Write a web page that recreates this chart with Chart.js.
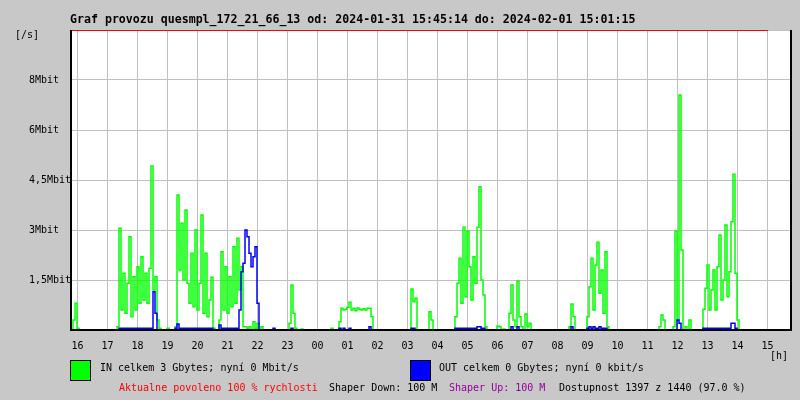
<!DOCTYPE html>
<html>
<head>
<meta charset="utf-8">
<script src="https://cdn.jsdelivr.net/npm/chart.js@4/dist/chart.umd.min.js"></script>
<style>
html,body{margin:0;padding:0;background:#c8c8c8;}
canvas{display:block;}
</style>
</head>
<body>
<canvas id="c" width="800" height="400"></canvas>
<script>
// ---- text ----
const titleText = 'Graf provozu quesmpl_172_21_66_13 od: 2024-01-31 15:45:14 do: 2024-02-01 15:01:15';
const yUnitText = '[/s]';
const xUnitText = '[h]';
const legendIn = 'IN celkem 3 Gbytes; nyní 0 Mbit/s';
const legendOut = 'OUT celkem 0 Gbytes; nyní 0 kbit/s';
const footerAllowed = 'Aktualne povoleno 100 % rychlosti';
const footerDown = 'Shaper Down: 100 M';
const footerUp = 'Shaper Up: 100 M';
const footerAvail = 'Dostupnost 1397 z 1440 (97.0 %)';

// ---- axes ----
const hourLabels = ['16','17','18','19','20','21','22','23','00','01','02','03','04','05','06','07','08','09','10','11','12','13','14','15'];
const firstHour = 16;
const xMinHour = 15.75;   // 15:45
const xMaxHour = 39.75;   // 15:45 next day
const yMaxMbit = 9;
const yStepMbit = 1.5;
const yTickValues = [1.5, 3, 4.5, 6, 7.5];
const yTickLabels = ['1,5Mbit', '3Mbit', '4,5Mbit', '6Mbit', '8Mbit'];

// ---- samples: one value every 4 minutes from 15:45 (Mbit/s), 15 per row = 1 hour ----
const sampleStartHour = 15.75;
const sampleStepMinutes = 4;
const inMbit = [
  0,0,0.3,0.8,0.05,0,0,0,0,0,0,0,0,0,0,
  0,0,0,0,0,0,0,0,0,0.1,3.05,0.6,1.7,0.5,1.4,
  2.8,0.4,1.6,0.6,1.9,0.8,2.2,0.9,1.7,0.8,1.85,4.92,1.2,1.6,0.3,
  0.05,0,0,0,0.05,0,0,0,0.1,4.05,1.8,3.2,1.5,3.6,1.4,
  0.8,2.3,0.7,3.0,0.6,1.4,3.45,0.5,2.3,0.4,0.9,1.58,0.05,0,0,
  0.3,2.35,0.6,1.9,0.5,1.6,0.7,2.5,0.8,2.75,1.2,1.9,0.1,0.1,0.05,
  0.1,0,0.25,0.05,0.2,0,0.1,0,0,0,0,0,0,0,0,
  0,0,0,0,0,0.2,1.35,0.5,0.05,0,0,0.03,0,0,0,
  0,0,0,0,0,0,0,0,0,0,0,0.05,0,0,0,
  0.25,0.65,0.6,0.62,0.68,0.83,0.6,0.65,0.58,0.66,0.62,0.6,0.64,0.6,0.65,
  0.65,0.4,0,0,0,0,0,0,0,0,0,0,0,0,0,
  0,0,0,0,0,0,1.23,0.85,0.95,0,0,0,0,0,0,
  0.55,0.3,0,0,0,0,0,0,0,0,0,0,0,0.4,1.4,
  2.15,0.8,3.08,1.0,2.97,1.9,0.9,2.2,1.4,3.08,4.3,1.5,1.05,0.1,0,
  0,0,0,0,0.12,0.1,0,0.03,0,0,0.5,1.35,0.3,0.1,1.47,
  0.4,0.1,0,0.48,0.1,0.2,0,0,0,0,0,0,0,0,0,
  0,0,0,0,0,0,0,0,0,0,0.1,0.78,0.4,0,0,
  0,0,0,0,0.4,1.3,2.15,0.6,1.95,2.63,1.1,1.8,0.5,2.35,0.1,
  0,0,0,0,0,0,0,0,0,0,0,0,0,0,0,
  0,0,0,0,0,0,0,0,0,0,0.1,0.45,0.3,0,0,
  0,0,0.1,2.97,0.3,7.05,2.4,0,0.1,0,0.3,0,0,0,0,
  0,0,0.62,1.25,1.95,0.6,1.2,1.8,0.6,1.9,2.85,0.9,1.5,3.15,1.0,
  1.75,3.25,4.67,1.7,0.3,0,0,0,0,0,0,0,0,0,0,
  0,0,0,0,0,null,null,null,null,null,null,null,null,null,null
];
const outMbit = [
  0,0,0,0,0,0,0,0,0,0,0,0,0,0,0,
  0,0,0,0,0,0,0,0,0,0,0.05,0.05,0.05,0.05,0.05,
  0.05,0.05,0.05,0.05,0.05,0.05,0.05,0.05,0.05,0.05,0.05,0.05,1.15,0.5,0,
  0,0,0,0,0,0,0,0,0.05,0.18,0.05,0.05,0.05,0.05,0.05,
  0.05,0.05,0.05,0.05,0.05,0.05,0.05,0.05,0.05,0.05,0.05,0.05,0,0,0,
  0.15,0.05,0.05,0.05,0.05,0.05,0.05,0.05,0.05,0.05,0.6,1.75,2.0,3.0,2.8,
  2.3,1.9,2.2,2.5,0.8,0,0,0,0,0,0,0,0.05,0,0,
  0,0,0,0,0,0,0.05,0,0,0,0,0,0,0,0,
  0,0,0,0,0,0,0,0,0,0,0,0,0,0,0,
  0.05,0,0.05,0,0,0.05,0,0,0,0,0,0,0,0,0,
  0.1,0,0,0,0,0,0,0,0,0,0,0,0,0,0,
  0,0,0,0,0,0,0.05,0.05,0,0,0,0,0,0,0,
  0,0,0,0,0,0,0,0,0,0,0,0,0,0.05,0.05,
  0.05,0.05,0.05,0.05,0.05,0.05,0.05,0.05,0.05,0.1,0.1,0.05,0.05,0,0,
  0,0,0,0,0,0,0,0,0,0,0,0.1,0,0,0.1,
  0,0,0,0,0,0,0,0,0,0,0,0,0,0,0,
  0,0,0,0,0,0,0,0,0,0,0,0.1,0,0,0,
  0,0,0,0,0.05,0.1,0.05,0.1,0.05,0.05,0.1,0.05,0.05,0.05,0,
  0,0,0,0,0,0,0,0,0,0,0,0,0,0,0,
  0,0,0,0,0,0,0,0,0,0,0,0,0,0,0,
  0,0,0,0,0.3,0.2,0,0,0,0,0,0,0,0,0,
  0,0,0.05,0.05,0.05,0.05,0.05,0.05,0.05,0.05,0.05,0.05,0.05,0.05,0.05,
  0.05,0.2,0.2,0.05,0,0,0,0,0,0,0,0,0,0,0,
  0,0,0,0,0,null,null,null,null,null,null,null,null,null,null
];
// allowed-speed line (100 %, off the top of the scale -> drawn at the top)
const limitHours = [15.75, 39.02];
const limitMbit = [9, 9];

// ---- colours ----
const colIn = '#00ff00', colOut = '#0000ff', colLimit = '#ff0000', colUp = '#990099';
const monoFont = '"DejaVu Sans Mono", "Liberation Mono", monospace';

function toPoints(vals) {
  return vals.map((v, i) => ({ x: sampleStartHour + i * sampleStepMinutes / 60, y: v }));
}

const decor = {
  id: 'decor',
  beforeDraw(chart) {
    const { ctx, chartArea: a } = chart;
    ctx.save();
    ctx.fillStyle = '#c8c8c8';
    ctx.fillRect(0, 0, chart.width, chart.height);
    ctx.fillStyle = '#ffffff';
    ctx.fillRect(a.left, a.top, a.right - a.left, a.bottom - a.top);
    ctx.restore();
  },
  afterDatasetsDraw(chart) {
    const { ctx, chartArea: a } = chart;
    ctx.save();
    ctx.fillStyle = '#000';
    ctx.fillRect(a.left, a.top, 2, a.bottom - a.top + 1);
    ctx.fillRect(a.left, a.bottom - 1, a.right - a.left + 2, 2);
    ctx.fillRect(a.right, a.top, 2, a.bottom - a.top + 1);
    ctx.restore();
  },
  afterDraw(chart) {
    const { ctx } = chart;
    ctx.save();
    ctx.textBaseline = 'alphabetic';
    ctx.textAlign = 'left';
    ctx.fillStyle = '#000';
    ctx.font = 'bold 11.6px ' + monoFont;
    ctx.fillText(titleText, 70, 23);
    ctx.font = '10px ' + monoFont;
    ctx.fillText(yUnitText, 15, 38);
    ctx.fillText(xUnitText, 770, 359);
    // legend boxes
    ctx.fillStyle = colIn; ctx.fillRect(70, 360, 21, 21);
    ctx.fillStyle = colOut; ctx.fillRect(410, 360, 21, 21);
    ctx.strokeStyle = '#000'; ctx.lineWidth = 1;
    ctx.strokeRect(70.5, 360.5, 20, 20);
    ctx.strokeRect(410.5, 360.5, 20, 20);
    ctx.fillStyle = '#000';
    ctx.fillText(legendIn, 100, 371);
    ctx.fillText(legendOut, 439, 371);
    ctx.fillStyle = colLimit; ctx.fillText(footerAllowed, 119, 391);
    ctx.fillStyle = '#000'; ctx.fillText(footerDown, 329, 391);
    ctx.fillStyle = colUp; ctx.fillText(footerUp, 449, 391);
    ctx.fillStyle = '#000'; ctx.fillText(footerAvail, 559, 391);
    ctx.restore();
  }
};

new Chart(document.getElementById('c'), {
  type: 'line',
  data: {
    datasets: [
      { label: 'OUT', data: toPoints(outMbit), borderColor: colOut, borderWidth: 1.5, pointRadius: 0, fill: false, stepped: 'middle', order: 0, spanGaps: false },
      { label: 'IN', data: toPoints(inMbit), borderColor: colIn, borderWidth: 1.5, pointRadius: 0, fill: false, stepped: 'middle', order: 1, spanGaps: false },
      { label: 'limit', data: limitHours.map((h, i) => ({ x: h, y: limitMbit[i] })), borderColor: colLimit, borderWidth: 2, pointRadius: 0, fill: false, order: 2, clip: 0 }
    ]
  },
  options: {
    responsive: false,
    animation: false,
    devicePixelRatio: 1,
    layout: { padding: { left: 29, right: 10, top: 30, bottom: 0 } },
    plugins: { legend: { display: false }, tooltip: { enabled: false }, title: { display: false } },
    scales: {
      x: {
        type: 'linear', min: xMinHour, max: xMaxHour,
        afterFit(s) { s.height = 70; },
        afterBuildTicks(s) { s.ticks = hourLabels.map((_, i) => ({ value: firstHour + i })); },
        border: { display: false },
        grid: { color: '#c0c0c0', lineWidth: 1, drawTicks: false },
        ticks: {
          autoSkip: false, maxRotation: 0, padding: 10,
          color: '#000', font: { family: monoFont, size: 10 },
          callback: (v, i) => hourLabels[i]
        }
      },
      y: {
        min: 0, max: yMaxMbit,
        afterFit(s) { s.width = 41; },
        border: { display: false },
        grid: { color: '#c0c0c0', lineWidth: 1, drawTicks: false },
        ticks: {
          stepSize: yStepMbit, crossAlign: 'far', padding: 0,
          color: '#000', font: { family: monoFont, size: 10 },
          callback: v => { const i = yTickValues.findIndex(t => Math.abs(t - v) < 1e-6); return i >= 0 ? yTickLabels[i] : ''; }
        }
      }
    }
  },
  plugins: [decor]
});
</script>
</body>
</html>
